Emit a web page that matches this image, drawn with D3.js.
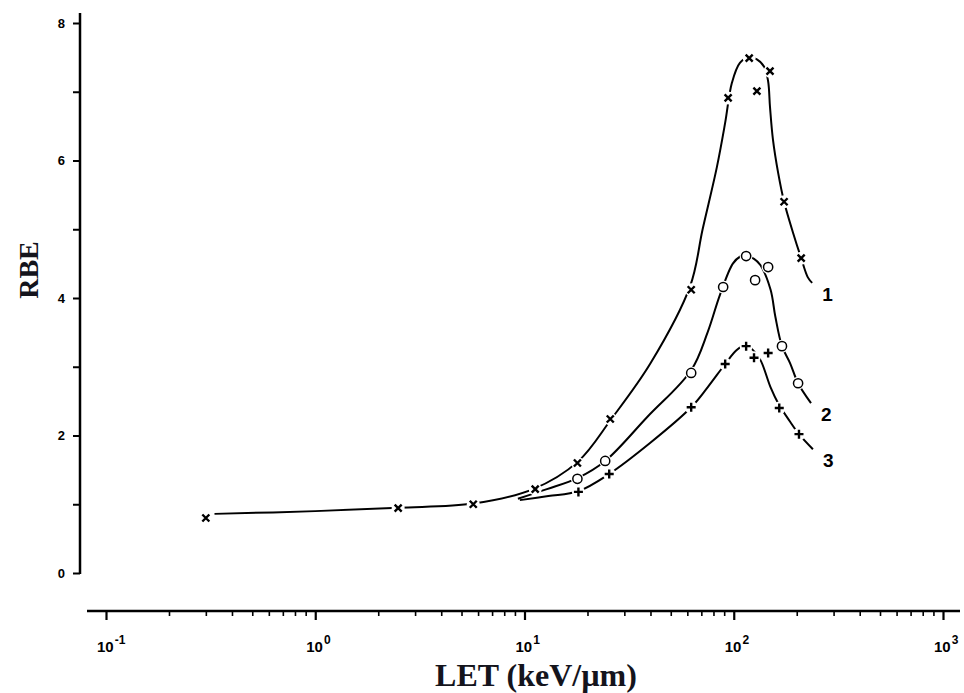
<!DOCTYPE html>
<html>
<head>
<meta charset="utf-8">
<script src="https://cdn.jsdelivr.net/npm/d3@7"></script>
<style>
  body { margin: 0; background: #fff; }
  svg { display: block; }
</style>
</head>
<body>
<div id="canvas"></div>
<script>
"use strict";

// RBE vs LET, three cell lines (curves 1, 2, 3)

// fitted curves: [LET keV/um, RBE]
let curve1 = [
  [0.33, 0.86], [1, 0.9], [2.5, 0.95], [5.7, 1.01], [11, 1.22], [18, 1.62],
  [26, 2.24], [40, 3.05], [62, 4.18], [71, 5.0], [83, 5.9], [91, 6.55],
  [98, 7.13], [107, 7.42], [118, 7.5], [129, 7.47], [140, 7.36], [146, 7.15],
  [149, 6.78], [154, 6.3], [163, 5.82], [174, 5.4], [192, 4.95], [210, 4.58],
  [226, 4.3], [237, 4.22]
];
let curve2 = [
  [9.3, 1.08], [12.8, 1.22], [17.9, 1.38], [24.3, 1.63], [38.6, 2.27],
  [62.6, 2.95], [75, 3.5], [86, 4.05], [99, 4.5], [107, 4.6], [114, 4.62],
  [125, 4.57], [134, 4.48], [150, 4.12], [158, 3.73], [170, 3.3], [186, 3.05],
  [203, 2.76], [234, 2.47]
];
let curve3 = [
  [9.5, 1.06], [13, 1.12], [18.1, 1.19], [25.4, 1.44], [39.8, 1.89],
  [62.6, 2.41], [75, 2.7], [91, 3.04], [103, 3.24], [114, 3.32], [122, 3.26],
  [134, 3.1], [150, 2.7], [163, 2.47], [186, 2.2], [205, 2.02], [239, 1.8]
];

// measured points
let points1 = [
  [0.3, 0.8], [2.49, 0.945], [5.69, 1.0], [11.25, 1.22], [17.9, 1.6],
  [25.7, 2.24], [62.6, 4.12], [94, 6.91], [118.5, 7.49], [129, 7.01],
  [149, 7.3], [174, 5.4], [210, 4.58]
];
let points2 = [
  [17.9, 1.37], [24.3, 1.63], [62.6, 2.91], [89, 4.16], [114.6, 4.61],
  [126.5, 4.26], [146, 4.45], [170, 3.3], [203, 2.76]
];
let points3 = [
  [18.1, 1.18], [25.4, 1.44], [62.6, 2.41], [91, 3.04], [114.6, 3.3],
  [125, 3.13], [146, 3.2], [165, 2.4], [205, 2.02]
];

let curveNames = ["1", "2", "3"];

// axis ticks
let xDecades = [0.1, 1, 10, 100, 1000];
let xExponents = ["-1", "0", "1", "2", "3"];
let yTicks = [0, 1, 2, 3, 4, 5, 6, 7, 8];
let yLabels = [0, 2, 4, 6, 8];

// setup
let width = 964;
let height = 693;

let svg = d3.select("#canvas")
  .append("svg")
  .attr("width", width)
  .attr("height", height);

let xScale = d3.scaleLog()
  .domain([0.1, 1000])
  .range([106, 943]);

let yScale = d3.scaleLinear()
  .domain([0, 8])
  .range([573, 23]);

// minor ticks 2..9 in each decade
let xMinor = [];
xDecades.slice(0, -1).forEach(d => {
  for (let k = 2; k <= 9; k++) xMinor.push(d * k);
});

// x axis (separate line under the plot)
let xAxisY = 611;

svg.append("line")
  .attr("x1", 87).attr("x2", 960)
  .attr("y1", xAxisY).attr("y2", xAxisY)
  .attr("stroke", "#000")
  .attr("stroke-width", 2.5);

let gxMinor = svg.append("g")
  .attr("transform", `translate(0, ${xAxisY})`)
  .call(d3.axisBottom(xScale).tickValues(xMinor).tickSize(5).tickFormat(""));
gxMinor.select(".domain").remove();
gxMinor.selectAll(".tick line").attr("stroke-width", 1.6);

let gxMajor = svg.append("g")
  .attr("transform", `translate(0, ${xAxisY})`)
  .call(d3.axisBottom(xScale).tickValues(xDecades).tickSize(9).tickFormat(""));
gxMajor.select(".domain").remove();
gxMajor.selectAll(".tick line").attr("stroke-width", 2.2);

// tick labels 10^n: the "10" centred on the tick, exponent to the right
xDecades.forEach((d, i) => {
  let t = svg.append("text")
    .attr("x", xScale(d) - 9)
    .attr("y", 652)
    .style("font-family", "'Liberation Sans', Arial, sans-serif")
    .style("font-weight", "bold")
    .style("font-size", "15px");
  t.append("tspan").text("10");
  t.append("tspan")
    .attr("dy", -8)
    .attr("dx", 1)
    .style("font-size", "12px")
    .text(xExponents[i]);
});

// y axis
let gy = svg.append("g")
  .attr("transform", "translate(80, 0)")
  .call(d3.axisLeft(yScale).tickValues(yTicks).tickSize(7).tickFormat(""));
gy.select(".domain").remove();
gy.selectAll(".tick line").attr("stroke-width", 2);

svg.append("line")
  .attr("x1", 80).attr("x2", 80)
  .attr("y1", 13).attr("y2", yScale(0) + 1)
  .attr("stroke", "#000")
  .attr("stroke-width", 2.5);

svg.selectAll(".ylab")
  .data(yLabels)
  .enter()
  .append("text")
  .attr("class", "ylab")
  .attr("x", 65)
  .attr("y", d => yScale(d) + 4.5)
  .attr("text-anchor", "end")
  .style("font-family", "'Liberation Sans', Arial, sans-serif")
  .style("font-weight", "bold")
  .style("font-size", "13px")
  .text(d => d);

// axis titles
svg.append("text")
  .attr("x", 536)
  .attr("y", 686)
  .attr("text-anchor", "middle")
  .style("font-family", "'Liberation Serif', 'Times New Roman', serif")
  .style("font-weight", "bold")
  .style("font-size", "32px")
  .style("fill", "#14141c")
  .text("LET (keV/\u00b5m)");

svg.append("text")
  .attr("transform", "translate(38, 270) rotate(-90)")
  .attr("text-anchor", "middle")
  .style("font-family", "'Liberation Serif', 'Times New Roman', serif")
  .style("font-weight", "bold")
  .style("font-size", "28px")
  .style("fill", "#14141c")
  .text("RBE");

// curves
let line = d3.line()
  .x(d => xScale(d[0]))
  .y(d => yScale(d[1]))
  .curve(d3.curveCatmullRom.alpha(0.5));

[curve1, curve2, curve3].forEach(c => {
  svg.append("path")
    .attr("d", line(c))
    .attr("fill", "none")
    .attr("stroke", "#000")
    .attr("stroke-width", 2);
});

// white halo behind each marker (the line breaks around the points)
let allPoints = points1.concat(points2, points3);
svg.selectAll(".halo")
  .data(allPoints)
  .enter()
  .append("circle")
  .attr("class", "halo")
  .attr("cx", d => xScale(d[0]))
  .attr("cy", d => yScale(d[1]))
  .attr("r", 6.5)
  .attr("fill", "#fff");

// x markers
svg.selectAll(".cross")
  .data(points1)
  .enter()
  .append("path")
  .attr("class", "cross")
  .attr("transform", d => `translate(${xScale(d[0])}, ${yScale(d[1])})`)
  .attr("d", "M-3.5,-3.5L3.5,3.5M-3.5,3.5L3.5,-3.5")
  .attr("stroke", "#000")
  .attr("stroke-width", 2.4);

// open circles
svg.selectAll(".ring")
  .data(points2)
  .enter()
  .append("circle")
  .attr("class", "ring")
  .attr("cx", d => xScale(d[0]))
  .attr("cy", d => yScale(d[1]))
  .attr("r", 4.6)
  .attr("fill", "#fff")
  .attr("stroke", "#000")
  .attr("stroke-width", 1.5);

// plus markers
svg.selectAll(".plus")
  .data(points3)
  .enter()
  .append("path")
  .attr("class", "plus")
  .attr("transform", d => `translate(${xScale(d[0])}, ${yScale(d[1])})`)
  .attr("d", "M-4.5,0L4.5,0M0,-4.5L0,4.5")
  .attr("stroke", "#000")
  .attr("stroke-width", 2.4);

// curve numbers at the right ends
[curve1, curve2, curve3].forEach((c, i) => {
  let last = c[c.length - 1];
  svg.append("text")
    .attr("x", xScale(last[0]) + 10)
    .attr("y", yScale(last[1]) + 18)
    .style("font-family", "'Liberation Sans', Arial, sans-serif")
    .style("font-weight", "bold")
    .style("font-size", "19px")
    .text(curveNames[i]);
});
</script>
</body>
</html>
